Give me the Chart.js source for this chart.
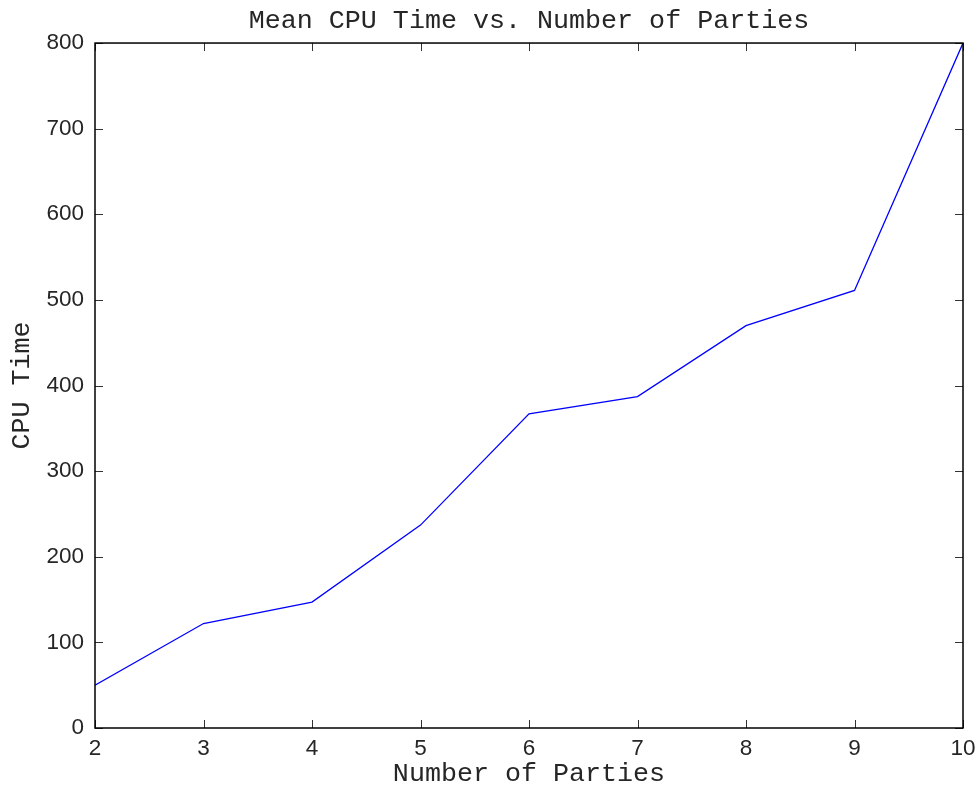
<!DOCTYPE html>
<html>
<head>
<meta charset="utf-8">
<script src="https://cdn.jsdelivr.net/npm/chart.js@4/dist/chart.umd.min.js"></script>
<style>
  html, body { margin: 0; padding: 0; background: #fff; }
  #wrap { width: 978px; height: 785px; }
</style>
</head>
<body>
<div id="wrap"><canvas id="cpuChart"></canvas></div>
<script>
// values
const parties = [2, 3, 4, 5, 6, 7, 8, 9, 10];
const cpuTime = [50, 122, 147, 237, 367, 387, 470, 511, 800];
const xTicks = [2, 3, 4, 5, 6, 7, 8, 9, 10];
const yTicks = [0, 100, 200, 300, 400, 500, 600, 700, 800];

const mono = '"Liberation Mono", "Courier New", monospace';
const sans = '"Liberation Sans", Arial, sans-serif';
const textColor = '#262626';

// box round the plot with inward tick marks on all four sides
const boxPlugin = {
  id: 'box',
  afterDraw(chart) {
    const ctx = chart.ctx;
    const a = chart.chartArea;
    const xs = chart.scales.x;
    const ys = chart.scales.y;
    const len = 8;
    ctx.save();
    ctx.strokeStyle = '#333';
    ctx.lineWidth = 1;
    ctx.beginPath();
    xTicks.forEach(v => {
      const px = Math.round(xs.getPixelForValue(v)) + 0.5;
      ctx.moveTo(px, a.bottom); ctx.lineTo(px, a.bottom - len);
      ctx.moveTo(px, a.top); ctx.lineTo(px, a.top + len);
    });
    yTicks.forEach(v => {
      const py = Math.round(ys.getPixelForValue(v)) + 0.5;
      ctx.moveTo(a.left, py); ctx.lineTo(a.left + len, py);
      ctx.moveTo(a.right, py); ctx.lineTo(a.right - len, py);
    });
    ctx.stroke();
    ctx.strokeStyle = '#000';
    ctx.lineWidth = 1.5;
    ctx.strokeRect(a.left, a.top, a.right - a.left, a.bottom - a.top);
    ctx.restore();
  }
};

const points = parties.map((p, i) => ({ x: p, y: cpuTime[i] }));

new Chart(document.getElementById('cpuChart'), {
  type: 'line',
  data: {
    datasets: [{
      data: points,
      borderColor: '#0000ff',
      borderWidth: 1.3,
      pointRadius: 0,
      tension: 0,
      fill: false
    }]
  },
  options: {
    responsive: true,
    maintainAspectRatio: false,
    animation: false,
    layout: { padding: { left: 0, right: 15, top: 0, bottom: 0 } },
    plugins: {
      legend: { display: false },
      tooltip: { enabled: false },
      title: {
        display: true,
        fullSize: false,
        text: 'Mean CPU Time vs. Number of Parties',
        color: textColor,
        font: { family: mono, size: 26.7, weight: 'normal', lineHeight: 1.2 },
        padding: { top: 5, bottom: 6 }
      }
    },
    scales: {
      x: {
        type: 'linear',
        min: 2,
        max: 10,
        afterBuildTicks: s => { s.ticks = xTicks.map(v => ({ value: v })); },
        afterFit: s => { s.height = 57; s.paddingLeft = 0; s.paddingRight = 0; },
        grid: { display: false, drawTicks: false },
        border: { display: false },
        ticks: {
          color: textColor,
          font: { family: sans, size: 22.5 },
          padding: 7,
          maxRotation: 0
        },
        title: {
          display: true,
          text: 'Number of Parties',
          color: textColor,
          font: { family: mono, size: 26.7, lineHeight: 0.85 },
          padding: { top: 0, bottom: 0 }
        }
      },
      y: {
        type: 'linear',
        min: 0,
        max: 800,
        afterBuildTicks: s => { s.ticks = yTicks.map(v => ({ value: v })); },
        afterFit: s => { s.width = 95; s.paddingTop = 0; s.paddingBottom = 0; },
        grid: { display: false, drawTicks: false },
        border: { display: false },
        ticks: {
          color: textColor,
          font: { family: sans, size: 22.5 },
          padding: 11
        },
        title: {
          display: true,
          text: 'CPU Time',
          color: textColor,
          font: { family: mono, size: 26.7, lineHeight: 1.2 },
          padding: { top: 6, bottom: 0 }
        }
      }
    }
  },
  plugins: [boxPlugin]
});
</script>
</body>
</html>
